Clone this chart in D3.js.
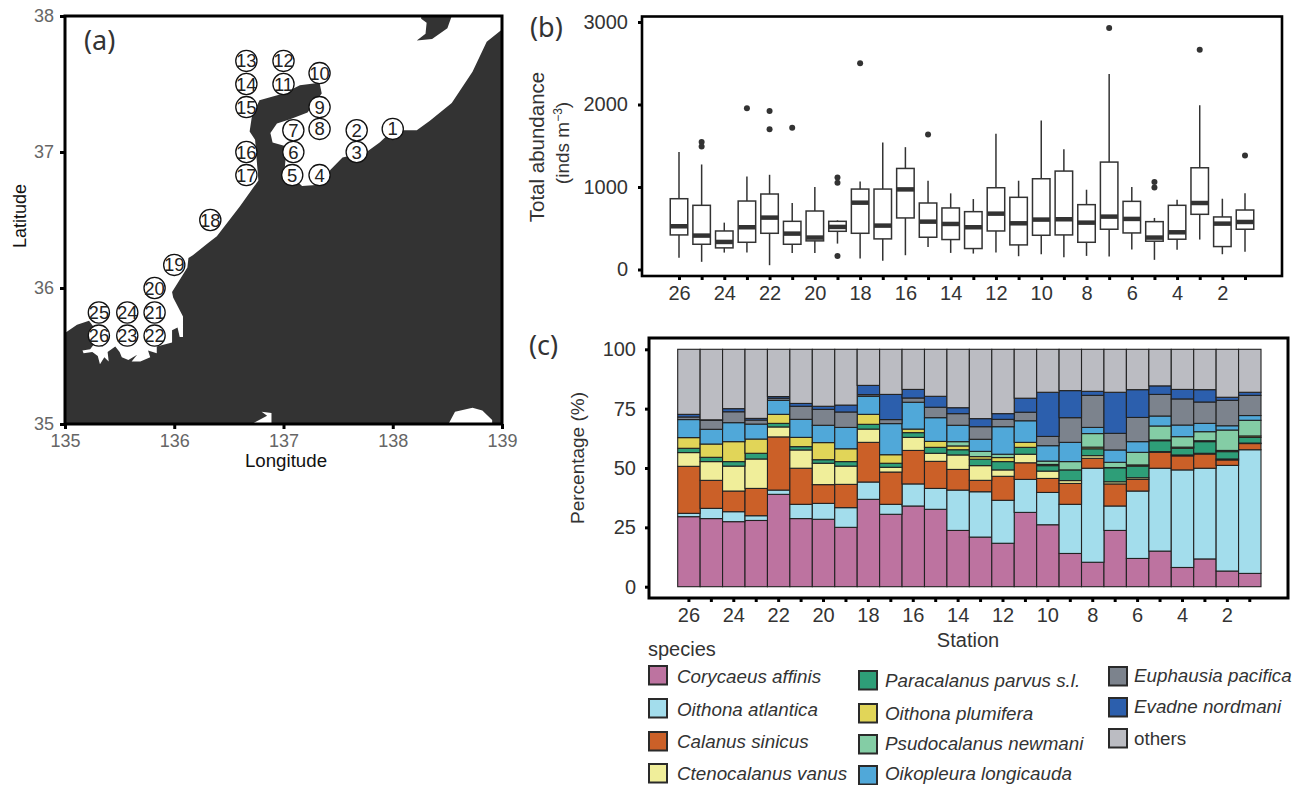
<!DOCTYPE html>
<html>
<head>
<meta charset="utf-8">
<script src="https://cdn.jsdelivr.net/npm/d3@7/dist/d3.min.js"></script>
<style>
  html, body { margin: 0; padding: 0; background: #fff; }
  svg { display: block; }
  text { font-family: "Liberation Sans", Arial, sans-serif; }
  .panel { font-family: "Noto Sans", sans-serif; font-size: 27px; fill: #333; font-weight: 400; }
</style>
</head>
<body>
<script>
// ---------- data ----------

// coast outlines as [longitude, latitude]
var mainland = [[139,37.90],[138.86,37.81],[138.73,37.59],[138.54,37.36],[138.34,37.23],[138.22,37.16],[138.00,37.16],[137.88,37.07],[137.76,37.00],[137.54,36.96],[137.43,36.87],[137.33,36.76],[137.17,36.75],[137.01,36.87],[137.03,37.04],[136.90,37.07],[136.88,37.14],[136.94,37.21],[137.06,37.24],[137.22,37.29],[137.35,37.43],[137.33,37.51],[137.15,37.49],[137.00,37.43],[136.78,37.38],[136.71,37.26],[136.69,37.15],[136.74,37.09],[136.76,36.89],[136.77,36.79],[136.60,36.60],[136.39,36.38],[136.31,36.33],[136.17,36.24],[136.13,36.22],[136.12,36.15],[135.98,35.97],[135.99,35.93],[136.08,35.79],[136.08,35.64],[136.05,35.64],[136.03,35.71],[135.98,35.69],[135.98,35.60],[135.84,35.57],[135.84,35.52],[135.76,35.54],[135.78,35.49],[135.69,35.46],[135.61,35.46],[135.66,35.51],[135.58,35.47],[135.52,35.49],[135.50,35.53],[135.46,35.57],[135.39,35.53],[135.40,35.46],[135.36,35.49],[135.32,35.44],[135.30,35.50],[135.25,35.53],[135.17,35.52],[135.16,35.54],[135.23,35.55],[135.26,35.58],[135.35,35.57],[135.32,35.65],[135.22,35.76],[135.11,35.73],[135,35.67],[135,35],[136.71,35],[136.85,35.06],[136.80,35.09],[136.89,35.08],[136.89,35],[138.51,35],[138.57,35.09],[138.73,35.12],[138.82,35.10],[138.91,35.03],[138.91,35],[139,35]];
var sado = [[138.54,38],[138.50,37.91],[138.36,37.83],[138.22,37.82],[138.30,37.87],[138.31,37.95],[138.26,37.98],[138.26,38]];

var stationIds = d3.range(26, 0, -1);
var stationLon = {1:138.0,2:137.67,3:137.67,4:137.33,5:137.08,6:137.09,7:137.09,8:137.33,9:137.33,10:137.33,11:137,12:137,13:136.66,14:136.66,15:136.66,16:136.66,17:136.66,18:136.33,19:136,20:135.82,21:135.82,22:135.82,23:135.57,24:135.57,25:135.31,26:135.31};
var stationLat = {1:37.17,2:37.16,3:37,4:36.83,5:36.83,6:37,7:37.16,8:37.17,9:37.33,10:37.58,11:37.5,12:37.67,13:37.67,14:37.5,15:37.33,16:37,17:36.83,18:36.5,19:36.17,20:36,21:35.82,22:35.65,23:35.65,24:35.82,25:35.82,26:35.65};

// box plot stats, stations 26 -> 1
var whiskerHigh = [1423,1273,568,1128,1148,806,1000,596,1068,1539,1483,1076,923,854,1644,1076,1805,1459,967,2370,1000,625,846,1991,858,923];
var q3 = [858,778,467,830,915,584,709,584,975,975,1225,806,746,701,991,875,1100,1193,786,1302,826,580,778,1233,637,721];
var median = [524,411,334,512,629,435,387,516,810,532,971,580,552,512,677,560,605,609,568,641,613,387,451,806,556,576];
var q1 = [419,306,262,330,439,306,347,463,439,371,625,391,363,254,467,298,415,419,330,488,443,343,367,669,278,488];
var whiskerLow = [141,93,205,205,52,201,201,314,133,105,173,274,201,193,205,161,185,149,165,157,242,117,238,363,185,214];
var outliers = [[],[1544,1491],[],[1955],[1922,1700],[1717],[],[1116,1052,165],[2499],[],[],[1636],[],[],[],[],[],[],[],[2926],[],[1060,995],[],[2664],[],[1382]];

// percentage per species, stations 26 -> 1
var corycaeus = [29.5,28.7,27.4,27.9,38.9,28.7,28.4,25.0,36.8,30.5,34.0,32.6,23.7,20.9,18.3,31.3,26.1,14.0,10.3,23.7,11.9,15.0,8.1,11.7,6.6,5.6];
var oithonaA = [1.4,4.3,4.2,2.0,1.8,6.0,6.7,8.3,7.3,4.2,9.3,8.8,17.0,19.1,18.1,13.9,13.6,20.7,39.6,10.3,28.4,34.9,41.1,38.2,44.5,52.1];
var calanus = [19.8,11.8,8.7,11.5,22.4,15.2,7.9,9.8,16.7,13.6,14.1,11.4,8.7,4.8,10.1,7.0,5.9,8.8,4.2,9.3,4.9,6.7,5.9,6.0,2.3,2.6];
var ctenocalanus = [5.8,7.9,10.5,12.4,4.2,7.7,9.0,7.7,5.6,2.0,5.5,3.4,6.1,6.2,2.7,3.6,3.1,1.2,1.1,0.9,0.7,0.3,0.4,0.3,0.4,0.2];
var paracalanus = [1.8,1.8,1.9,2.4,1.5,1.4,1.5,1.9,2.0,1.7,2.0,2.5,2.2,2.7,3.5,2.9,2.3,4.5,2.9,5.9,4.9,4.6,2.8,4.9,3.1,2.4];
var oithonaP = [4.5,5.6,8.4,6.0,3.8,3.9,7.2,5.4,4.2,3.6,1.5,2.5,1.6,1.1,1.7,2.1,0.5,0,0.7,0.1,0.5,0.3,0.5,0.4,0.5,0.6];
var psudocalanus = [0,0,0,0,0,0,0,0,0,0,0,0,1.8,2.2,1.4,0,1.4,3.5,5.7,2.2,5.3,5.9,4.4,3.8,8.6,6.6];
var oikopleura = [7.6,6.2,8.0,6.3,5.9,7.6,7.3,9.0,7.6,13.1,11.3,10,6.9,5.1,11.6,9.1,6.5,8.1,2.6,5.2,4.5,4.2,4.9,3.5,1.8,2.0];
var euphausia = [1.1,3.8,4.6,1.7,0.9,5.5,6.7,6.5,0.7,1.7,1.8,4.4,4.9,5.3,3.1,3.6,3.9,10.4,13.5,7.0,10.2,9.1,11.0,9.0,10.7,8.5];
var evadne = [1.1,0.2,1.3,0.7,0.7,1.2,1.3,2.9,3.9,10.6,3.6,4.6,2.5,3.4,2.4,5.9,18.6,11.4,1.7,17.3,11.7,3.6,4.0,5.2,1.3,1.3];
var others = [27.4,29.7,25,29.1,19.9,22.8,24,23.5,15.2,19,16.9,19.8,24.6,29.2,27.1,20.6,18.1,17.4,17.7,18.1,17,15.4,16.9,17,20.2,18.1];

var speciesNames = ["Corycaeus affinis","Oithona atlantica","Calanus sinicus","Ctenocalanus vanus","Paracalanus parvus s.l.","Oithona plumifera","Psudocalanus newmani","Oikopleura longicauda","Euphausia pacifica","Evadne nordmani","others"];
var speciesValues = [corycaeus,oithonaA,calanus,ctenocalanus,paracalanus,oithonaP,psudocalanus,oikopleura,euphausia,evadne,others];
var speciesColors = ["#BD73A0","#A3DDEC","#CB6028","#F0EE9A","#2E9E78","#E1D558","#84CDA5","#50A8D9","#7C838D","#2C5FAD","#BBBCC2"];

// ---------- canvas ----------
var svg = d3.select("body").append("svg")
    .attr("width", 1305)
    .attr("height", 785);

function styleAxis(g, color, fontSize, tickW) {
    g.select(".domain").remove();
    g.selectAll(".tick line").attr("stroke", "#000").attr("stroke-width", tickW);
    g.selectAll(".tick text").attr("fill", color).attr("font-size", fontSize);
}

function drawFrame(x0, y0, x1, y1, w) {
    svg.append("rect")
        .attr("x", x0).attr("y", y0)
        .attr("width", x1 - x0).attr("height", y1 - y0)
        .attr("fill", "none")
        .attr("stroke", "#000")
        .attr("stroke-width", w);
}

function evenOnly(d) { return d % 2 === 0 ? d : ""; }

// ---------- (a) map ----------
var lon = d3.scaleLinear().domain([135, 139]).range([65, 502]);
var lat = d3.scaleLinear().domain([35, 38]).range([424, 16]);

var coastLine = d3.line()
    .x(function (d) { return lon(d[0]); })
    .y(function (d) { return lat(d[1]); });

svg.append("path").attr("d", coastLine(mainland) + "Z").attr("fill", "#333");
svg.append("path").attr("d", coastLine(sado) + "Z").attr("fill", "#333");

var stationG = svg.selectAll(".station")
    .data(stationIds)
    .enter().append("g")
    .attr("transform", function (d) { return "translate(" + lon(stationLon[d]) + "," + lat(stationLat[d]) + ")"; });
stationG.append("circle").attr("r", 10.6).attr("fill", "#fff").attr("stroke", "#111").attr("stroke-width", 1.3);
stationG.append("text")
    .attr("text-anchor", "middle").attr("y", 6.5)
    .attr("font-size", 18.5).attr("fill", "#222")
    .text(function (d) { return d; });

drawFrame(65, 16, 502, 424, 3);

svg.append("g").attr("transform", "translate(0,424)")
    .call(d3.axisBottom(lon).tickValues([135,136,137,138,139]).tickFormat(d3.format("d")).tickSizeInner(5).tickSizeOuter(0).tickPadding(5))
    .call(styleAxis, "#666", 18, 3);
svg.append("g").attr("transform", "translate(65,0)")
    .call(d3.axisLeft(lat).tickValues([35,36,37,38]).tickFormat(d3.format("d")).tickSizeInner(5).tickSizeOuter(0).tickPadding(6))
    .call(styleAxis, "#666", 18, 3);

svg.append("text").attr("x", 286).attr("y", 467).attr("text-anchor", "middle").attr("font-size", 18.7).attr("fill", "#111").text("Longitude");
svg.append("text").attr("transform", "translate(26,216) rotate(-90)").attr("text-anchor", "middle").attr("font-size", 18).attr("fill", "#111").text("Latitude");
svg.append("text").attr("class", "panel").attr("x", 84).attr("y", 50).text("(a)");

// ---------- (b) box plot ----------
var xBox = d3.scalePoint().domain(stationIds).range([679, 1245]);
var yBox = d3.scaleLinear().domain([0, 3000]).range([269.5, 22]);
var boxWidth = 17.5;

var boxG = svg.selectAll(".box")
    .data(stationIds)
    .enter().append("g");

boxG.append("line")
    .attr("x1", function (d) { return xBox(d); })
    .attr("x2", function (d) { return xBox(d); })
    .attr("y1", function (d, i) { return yBox(whiskerLow[i]); })
    .attr("y2", function (d, i) { return yBox(whiskerHigh[i]); })
    .attr("stroke", "#333").attr("stroke-width", 1.5);
boxG.append("rect")
    .attr("x", function (d) { return xBox(d) - boxWidth / 2; })
    .attr("width", boxWidth)
    .attr("y", function (d, i) { return yBox(q3[i]); })
    .attr("height", function (d, i) { return yBox(q1[i]) - yBox(q3[i]); })
    .attr("fill", "#fff").attr("stroke", "#333").attr("stroke-width", 1.5);
boxG.append("line")
    .attr("x1", function (d) { return xBox(d) - boxWidth / 2; })
    .attr("x2", function (d) { return xBox(d) + boxWidth / 2; })
    .attr("y1", function (d, i) { return yBox(median[i]); })
    .attr("y2", function (d, i) { return yBox(median[i]); })
    .attr("stroke", "#333").attr("stroke-width", 4.5);
boxG.selectAll("circle")
    .data(function (d, i) { return outliers[i].map(function (v) { return { s: d, v: v }; }); })
    .enter().append("circle")
    .attr("cx", function (d) { return xBox(d.s); })
    .attr("cy", function (d) { return yBox(d.v); })
    .attr("r", 3)
    .attr("fill", "#333");

drawFrame(642, 16.5, 1282, 276, 2.6);

svg.append("g").attr("transform", "translate(0,276)")
    .call(d3.axisBottom(xBox).tickFormat(evenOnly).tickSizeInner(4).tickSizeOuter(0).tickPadding(6))
    .call(styleAxis, "#333", 20, 3);
svg.append("g").attr("transform", "translate(642,0)")
    .call(d3.axisLeft(yBox).tickValues([0,1000,2000,3000]).tickFormat(d3.format("d")).tickSizeInner(4).tickSizeOuter(0).tickPadding(10))
    .call(styleAxis, "#333", 20, 3);

svg.append("text").attr("transform", "translate(544,147) rotate(-90)").attr("text-anchor", "middle").attr("font-size", 20.5).attr("fill", "#333").text("Total abundance");
var unitLabel = svg.append("text").attr("transform", "translate(569,143) rotate(-90)").attr("text-anchor", "middle").attr("font-size", 19).attr("fill", "#333");
unitLabel.append("tspan").text("(inds m");
unitLabel.append("tspan").attr("dy", -7).attr("font-size", 12).text("−3");
unitLabel.append("tspan").attr("dy", 7).text(")");
svg.append("text").attr("class", "panel").attr("x", 530).attr("y", 37).text("(b)");

// ---------- (c) stacked bars ----------
var xBar = d3.scaleBand().domain(stationIds).range([677.7, 1261]).padding(0);
var yBar = d3.scaleLinear().domain([0, 100]).range([586.7, 349.3]);

var rows = stationIds.map(function (s, i) {
    var row = { station: s };
    speciesNames.forEach(function (name, k) { row[name] = speciesValues[k][i]; });
    return row;
});
var stacked = d3.stack().keys(speciesNames)(rows);

svg.selectAll(".layer")
    .data(stacked)
    .enter().append("g")
    .attr("fill", function (d, k) { return speciesColors[k]; })
    .selectAll("rect")
    .data(function (d) { return d; })
    .enter().append("rect")
    .attr("x", function (d) { return xBar(d.data.station); })
    .attr("width", xBar.bandwidth())
    .attr("y", function (d) { return yBar(d[1]); })
    .attr("height", function (d) { return yBar(d[0]) - yBar(d[1]); })
    .attr("stroke", "#222")
    .attr("stroke-width", 1.1);

drawFrame(649, 338, 1288, 598, 3);

svg.append("g").attr("transform", "translate(0,598)")
    .call(d3.axisBottom(xBar).tickFormat(evenOnly).tickSizeInner(4).tickSizeOuter(0).tickPadding(6))
    .call(styleAxis, "#333", 20, 3);
svg.append("g").attr("transform", "translate(649,0)")
    .call(d3.axisLeft(yBar).tickValues([0,25,50,75,100]).tickFormat(d3.format("d")).tickSizeInner(4).tickSizeOuter(0).tickPadding(9))
    .call(styleAxis, "#333", 20, 3);

svg.append("text").attr("transform", "translate(584,458) rotate(-90)").attr("text-anchor", "middle").attr("font-size", 19).attr("fill", "#333").text("Percentage (%)");
svg.append("text").attr("x", 968).attr("y", 647).attr("text-anchor", "middle").attr("font-size", 20).attr("fill", "#333").text("Station");
svg.append("text").attr("class", "panel").attr("x", 529).attr("y", 355).text("(c)");

// ---------- legend ----------
svg.append("text").attr("x", 648).attr("y", 656).attr("font-size", 20).attr("fill", "#333").text("species");

var legendX = [649, 859, 1109];
var legendTextX = [677, 885, 1134];
var legendTop = [666, 699, 732, 764, 671, 704, 735, 766, 667, 698, 729];
var legendBase = [683, 716, 748, 780, 687, 720, 750, 780, 682, 713, 745];
var legendCol = [0, 0, 0, 0, 1, 1, 1, 1, 2, 2, 2];

var legendG = svg.selectAll(".legendItem")
    .data(speciesNames)
    .enter().append("g");
legendG.append("rect")
    .attr("x", function (d, i) { return legendX[legendCol[i]]; })
    .attr("y", function (d, i) { return legendTop[i]; })
    .attr("width", 18).attr("height", 18.5)
    .attr("fill", function (d, i) { return speciesColors[i]; })
    .attr("stroke", "#2a2a2a").attr("stroke-width", 2);
legendG.append("text")
    .attr("x", function (d, i) { return legendTextX[legendCol[i]]; })
    .attr("y", function (d, i) { return legendBase[i]; })
    .attr("font-size", 18.8)
    .attr("font-style", function (d) { return d === "others" ? "normal" : "italic"; })
    .attr("fill", "#333")
    .text(function (d) { return d; });
</script>
</body>
</html>
